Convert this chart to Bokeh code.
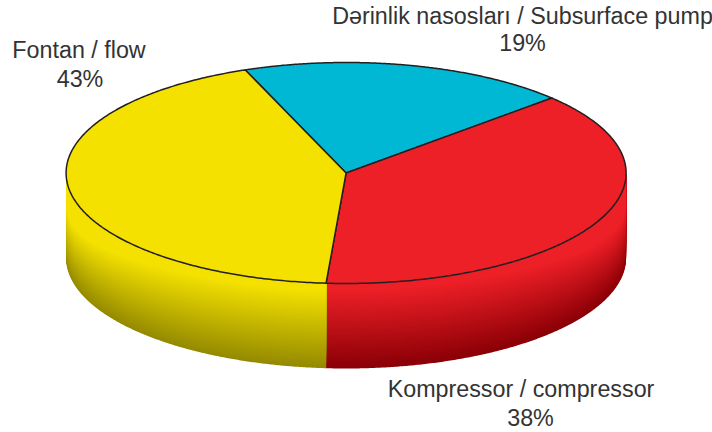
import numpy as np
from bokeh.plotting import figure
from bokeh.models import Range1d
from bokeh.core.properties import value
from bokeh.embed import file_html
from bokeh.resources import INLINE

# --- data
labels = ["Dərinlik nasosları / Subsurface pump", "Kompressor / compressor", "Fontan / flow"]
values = [19, 38, 43]
top_colors = ["#00B8D4", "#ED1F27", "#F4E100"]
dark_colors = ["#006A7C", "#8A0006", "#948A00"]

# --- layout: one data unit is one page pixel
W, H = 712, 432
CX, CY, RX, RY, DEPTH = 345.6, 172.5, 280, 110.5, 85
START = -21.1  # degrees clockwise from the top
label_x = [[522, 522], [520.5, 530], [78.5, 79.5]]
label_y = [[15, 42], [388, 417], [49, 78]]
LEVELS = 64


def arc(a, b, offset=None, n=240):
    th = np.radians(np.linspace(a, b, n))
    x = CX + RX * np.sin(th)
    y = CY - RY * np.cos(th)
    if offset is not None:
        y = y + offset(th)
    return x, y


def hex2rgb(h):
    return np.array([int(h[i:i + 2], 16) for i in (1, 3, 5)], dtype=float)


def mix(c0, c1, t):
    c = hex2rgb(c0) * (1 - t) + hex2rgb(c1) * t
    return "#%02X%02X%02X" % tuple(int(round(v)) for v in c)


p = figure(width=W, height=H, output_backend="svg", toolbar_location=None,
           x_range=Range1d(0, W), y_range=Range1d(H, 0),
           min_border=0, outline_line_color=None)
p.axis.visible = False
p.grid.visible = False
p.background_fill_color = "white"
p.border_fill_color = "white"

sweeps = np.array(values) / sum(values) * 360
starts = START + np.concatenate([[0], np.cumsum(sweeps)[:-1]])
ends = starts + sweeps

# the rim: nested bands, painted from the deepest to the shallowest
for a, b, c0, c1 in zip(starts, ends, top_colors, dark_colors):
    a2, b2 = max(a, 90), min(b, 270)
    if a2 >= b2:
        continue
    xs, ys, cols = [], [], []
    for lvl in np.linspace(1, 0, LEVELS):
        def off(th, lvl=lvl):
            s = 0.09 + 0.27 * np.abs(np.sin(th)) ** 4
            return DEPTH * (s + lvl * (1 - s)) if lvl > 0 else DEPTH * s
        xb, yb = arc(a2, b2, off)
        xt, yt = arc(a2, b2)
        xs.append(np.concatenate([xb, xt[::-1]]))
        ys.append(np.concatenate([yb, yt[::-1]]))
        cols.append(mix(c0, c1, lvl))
    p.patches(xs, ys, fill_color=cols, line_color=None)

# the top face
for a, b, c in zip(starts, ends, top_colors):
    x, y = arc(a, b)
    p.patch(np.concatenate([[CX], x]), np.concatenate([[CY], y]),
            fill_color=c, line_color="#231F20", line_width=1.5, line_join="round")

# labels
for lab, v, lx, ly in zip(labels, values, label_x, label_y):
    p.text(lx, ly, text=[lab, f"{v}%"], text_align="center", text_baseline="alphabetic",
           text_font=value("Liberation Sans"), text_font_size="23.3px", text_color="#333333")

open("out.html", "w").write(file_html(p, INLINE))
